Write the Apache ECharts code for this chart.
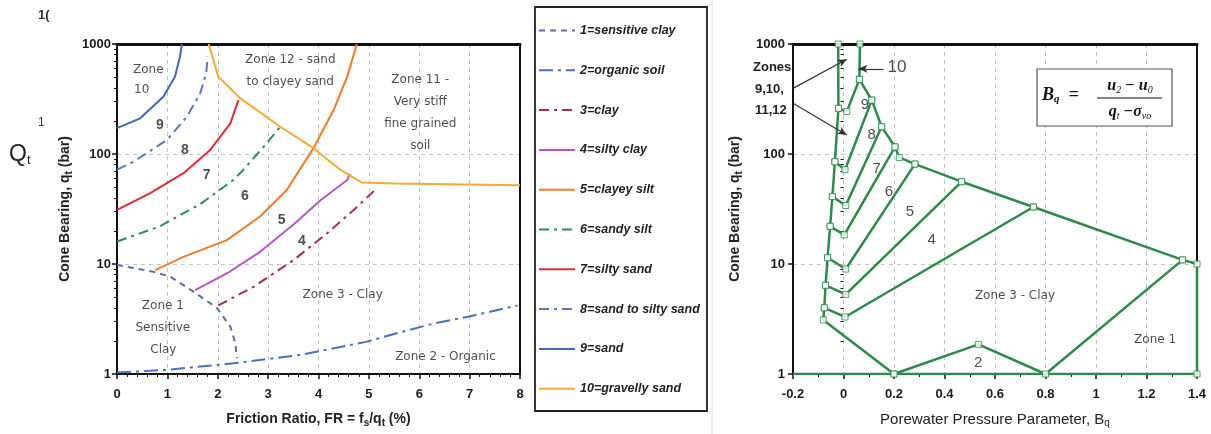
<!DOCTYPE html>
<html><head><meta charset="utf-8">
<script src="https://cdn.jsdelivr.net/npm/echarts@6/dist/echarts.min.js"></script>
<style>html,body{margin:0;padding:0;background:#fff}#c{width:1211px;height:434px}</style>
</head><body><div id="c"></div>
<script>
// ---------------- DATA ----------------
// Left chart: Friction ratio (%) vs cone bearing qt (bar)
const legendNames = ['1=sensitive clay','2=organic soil','3=clay','4=silty clay','5=clayey silt','6=sandy silt','7=silty sand','8=sand to silty sand','9=sand','10=gravelly sand'];
const frZone1 = [[0,9.8],[0.72,8.5],[1.05,7.7],[1.52,5.6],[1.98,4.0],[2.25,2.7],[2.35,1.9],[2.38,1.39]];
const frZone2 = [[0,1.03],[0.99,1.09],[2.31,1.25],[3.64,1.49],[4.96,1.97],[5.63,2.4],[6.29,2.88],[6.95,3.3],[7.95,4.2]];
const frZone3 = [[2.01,4.2],[2.71,6.2],[3.51,10.9],[4.17,19],[4.70,31],[5.16,49]];
const frZone4 = [[1.55,5.8],[2.18,8.2],[2.84,12.9],[3.51,23],[4.04,38],[4.57,58],[4.62,66]];
const frZone5 = [[0.76,8.8],[1.32,11.6],[2.18,16.5],[2.84,27],[3.37,47],[3.90,113],[4.30,251],[4.57,505],[4.76,1000]];
const frZone6 = [[0,16],[0.85,22],[1.65,35],[2.31,58],[2.51,72],[2.91,116],[3.24,177]];
const frZone7 = [[0,31],[0.66,44],[1.32,67],[1.85,109],[2.25,190],[2.41,309]];
const frZone8 = [[0,72],[0.33,85],[0.99,134],[1.39,219],[1.65,355],[1.77,540],[1.80,767]];
const frZone9 = [[0,172],[0.46,211],[0.92,331],[1.15,504],[1.25,767],[1.29,1000]];
const frZone10 = [[1.82,1000],[2.01,505],[2.45,320],[3.24,177],[3.90,113],[4.43,72],[4.86,55],[5.5,54],[8,52]];
const frTicks = [0,1,2,3,4,5,6,7,8];
const qtTicks = [1,10,100,1000];
const qtMinorTicks = [2,3,4,5,6,7,8,9,20,30,40,50,60,70,80,90,200,300,400,500,600,700,800,900];
const frLabels = [
  ['Zone',0.62,580,'zone'],['10',0.49,382,'zone'],
  ['9',0.85,184,'num'],['8',1.35,109,'num'],['7',1.78,64,'num'],['6',2.54,41,'num'],['5',3.27,25,'num'],['4',3.67,16,'num'],
  ['Zone 12 - sand',3.44,716,'zone'],['to clayey sand',3.44,454,'zone'],
  ['Zone 11 -',6.02,471,'zone'],['Very stiff',6.02,299,'zone'],['fine grained',6.02,187,'zone'],['soil',6.02,119,'zone'],
  ['Zone 3 - Clay',4.48,5.2,'zone'],
  ['Zone 1',0.91,4.15,'zone'],['Sensitive',0.91,2.6,'zone'],['Clay',0.92,1.65,'zone'],
  ['Zone 2 - Organic',6.52,1.44,'zone']
];
// Right chart: Bq vs cone bearing qt (bar)
const bqTicks = [-0.2,0,0.2,0.4,0.6,0.8,1,1.2,1.4];
const bqLeftChain = [[-0.021,1000],[-0.02,260],[-0.034,85],[-0.044,41],[-0.053,22],[-0.063,11.4],[-0.071,6.4],[-0.076,4.0],[-0.08,3.1],[0.2,1]];
const bqZone2 = [[0.2,1],[0.534,1.86],[0.8,1],[1.343,10.9]];
const bqUpper = [[0.065,1000],[0.063,477],[0.112,309],[0.151,177],[0.204,116],[0.221,93],[0.283,81],[0.468,56],[0.752,33],[1.343,10.9],[1.4,10],[1.4,1]];
const bqBase = [[-0.2,1],[1.4,1]];
const bqV9 = [[-0.02,260],[0.013,243],[0.063,477]];
const bqV8 = [[-0.034,85],[0.006,72],[0.112,309]];
const bqV7 = [[-0.044,41],[0.009,34],[0.151,177]];
const bqV6 = [[-0.053,22],[0.003,18.4],[0.204,116]];
const bqV5 = [[-0.063,11.4],[0.009,9.0],[0.283,81]];
const bqV4 = [[-0.071,6.4],[0.009,5.3],[0.468,56]];
const bqV3 = [[-0.076,4.0],[0.006,3.3],[0.752,33]];
const bqArrows = [[[-0.2,395],[0.013,727]],[[-0.2,289],[0.013,149]],[[0.158,595],[0.059,595]]];
const bqLabels = [
  ['9',0.085,279,'num'],['8',0.112,149,'num'],['7',0.131,74,'num'],['6',0.180,45,'num'],['5',0.263,30,'num'],['4',0.349,16.5,'num'],
  ['2',0.533,1.26,'num'],['10',0.212,617,'big'],
  ['Zone 3 - Clay',0.679,5.1,'zone'],['Zone 1',1.234,2.04,'zone']
];

// ---------------- STYLES ----------------
const lineDefs = [
  {data:frZone1,color:'#5d6ca8',type:[6,5]},
  {data:frZone2,color:'#4a6fc2',type:[14,5,3,5]},
  {data:frZone3,color:'#a0304f',type:[10,5,3,5]},
  {data:frZone4,color:'#b658c2',type:'solid'},
  {data:frZone5,color:'#f07a2a',type:'solid'},
  {data:frZone6,color:'#2a9052',type:[10,5,3,5]},
  {data:frZone7,color:'#e22a3c',type:'solid'},
  {data:frZone8,color:'#5a78b8',type:[10,5,3,5]},
  {data:frZone9,color:'#4466bb',type:'solid'},
  {data:frZone10,color:'#f5aa32',type:'solid'}
];
const GREEN = '#2d8a4a';
const labelStyles = {
  zone:{fontFamily:'DejaVu Sans',fontSize:12,color:'#222'},
  num:{fontFamily:'Liberation Sans',fontSize:14,fontWeight:'bold',color:'#222'},
  big:{fontFamily:'Liberation Sans',fontSize:17,color:'#222'}
};
const rightNum = {fontFamily:'Liberation Sans',fontSize:15,color:'#222'};
const tickFont = {color:'#1a1a1a',fontWeight:'bold',fontSize:13,fontFamily:'Liberation Sans'};
const gridDash = {color:'#c4c4c4',type:[4,4],width:1};
const subRich = {s:{fontSize:10,fontWeight:'bold',fontFamily:'Liberation Sans',padding:[7,0,0,0]}};

function logFmt(v){return String(Math.round(v));}

function xMain(grid,min,max,interval,minorSplit,name,nameStyle){
  return {gridIndex:grid,type:'value',min:min,max:max,interval:interval,position:'bottom',
    axisLine:{show:true,onZero:false,lineStyle:{color:'#111',width:2}},
    axisTick:{show:true,length:5,lineStyle:{color:'#111',width:1.5}},
    minorTick:{show:true,splitNumber:minorSplit,length:3,lineStyle:{color:'#111',width:1}},
    axisLabel:Object.assign({margin:14,formatter:v=>String(+(+v).toFixed(1))},tickFont),
    splitLine:{show:true,lineStyle:gridDash},
    name:name,nameLocation:'middle',nameGap:37,nameTextStyle:nameStyle};
}
function xTop(grid,min,max){
  return {gridIndex:grid,type:'value',min:min,max:max,position:'top',
    axisLine:{show:true,onZero:false,lineStyle:{color:'#111',width:3}},
    axisTick:{show:false},axisLabel:{show:false},splitLine:{show:false}};
}
function yMain(grid,name,gap,labelMargin){
  return {gridIndex:grid,type:'log',logBase:10,min:1,max:1000,position:'left',
    axisLine:{show:true,onZero:false,lineStyle:{color:'#111',width:2}},
    axisTick:{show:true,length:5,lineStyle:{color:'#111',width:1.5}},
    axisLabel:Object.assign({margin:labelMargin,formatter:logFmt},tickFont),
    splitLine:{show:true,lineStyle:gridDash},
    name:name,nameLocation:'middle',nameGap:gap,
    nameTextStyle:{fontSize:14,fontWeight:'bold',color:'#222',fontFamily:'Liberation Sans',rich:subRich}};
}
function yMinor(grid){
  return {gridIndex:grid,type:'log',logBase:10,min:1,max:1000,position:'left',
    axisLine:{show:false},axisLabel:{show:false},splitLine:{show:false},
    axisTick:{show:true,length:3,customValues:qtMinorTicks,lineStyle:{color:'#111',width:1}}};
}
function yRight(grid){
  return {gridIndex:grid,type:'log',logBase:10,min:1,max:1000,position:'right',
    axisLine:{show:true,onZero:false,lineStyle:{color:'#111',width:2}},
    axisTick:{show:false},axisLabel:{show:false},splitLine:{show:false}};
}

const series = [];
lineDefs.forEach((d,i)=>{
  series.push({name:legendNames[i],type:'line',xAxisIndex:0,yAxisIndex:0,data:d.data,
    symbol:'none',showSymbol:false,smooth:false,silent:true,z:3,
    itemStyle:{color:d.color},lineStyle:{color:d.color,width:2,type:d.type}});
});
function labelSeries(xi,yi,list,numStyle){
  return {type:'scatter',xAxisIndex:xi,yAxisIndex:yi,symbolSize:1,silent:true,z:6,
    itemStyle:{color:'rgba(0,0,0,0)'},
    data:list.map(l=>({value:[l[1],l[2]],
      label:Object.assign({show:true,position:'inside',formatter:l[0]},
        (numStyle && l[3]==='num')?numStyle:labelStyles[l[3]])}))};
}
series.push(labelSeries(0,0,frLabels,null));

const rightLines = [bqLeftChain,bqZone2,bqUpper,bqV9,bqV8,bqV7,bqV6,bqV5,bqV4,bqV3];
series.push({type:'line',xAxisIndex:2,yAxisIndex:3,data:bqBase,symbol:'none',silent:true,z:4,
  lineStyle:{color:GREEN,width:2.5}});
rightLines.forEach(d=>{
  series.push({type:'line',xAxisIndex:2,yAxisIndex:3,data:d,symbol:'none',showSymbol:false,silent:true,z:4,
    lineStyle:{color:GREEN,width:2.5}});
});
const nodes = [];
rightLines.forEach(d=>d.forEach(p=>nodes.push(p)));
series.push({type:'scatter',xAxisIndex:2,yAxisIndex:3,data:nodes,symbol:'rect',symbolSize:6,silent:true,z:5,
  itemStyle:{color:'#ffffff',borderColor:GREEN,borderWidth:1}});
series.push(Object.assign(labelSeries(2,3,bqLabels,rightNum),{
  markLine:{silent:true,symbol:['none','arrow'],symbolSize:[6,9],label:{show:false},
    lineStyle:{color:'#333',width:1.2,type:'solid'},animation:false,
    data:bqArrows.map(a=>[{coord:a[0]},{coord:a[1]}])}
}));

const option = {
  animation:false,
  backgroundColor:'#ffffff',
  grid:[
    {left:117,top:44,width:403,height:330,outerBoundsMode:'none'},
    {left:793,top:44,width:404,height:330,outerBoundsMode:'none'}
  ],
  xAxis:[
    xMain(0,0,8,1,5,'Friction Ratio, FR = f{s|s}/q{s|t} (%)',
      {fontSize:14,fontWeight:'bold',color:'#222',fontFamily:'Liberation Sans',rich:subRich}),
    xTop(0,0,8),
    xMain(1,-0.2,1.4,0.2,2,'Porewater Pressure Parameter, B{s|q}',
      {fontSize:15,color:'#222',fontFamily:'Liberation Sans',rich:{s:{fontSize:10,fontFamily:'Liberation Sans',padding:[7,0,0,0]}}}),
    xTop(1,-0.2,1.4)
  ],
  yAxis:[
    yMain(0,'Cone Bearing, q{s|t} (bar)',43,6), yMinor(0), yRight(0),
    yMain(1,'Cone Bearing, q{s|t} (bar)',49,8), yMinor(1), yRight(1)
  ],
  legend:{
    orient:'vertical',left:538,top:24,padding:0,itemWidth:36,itemHeight:14,itemGap:26.8,
    selectedMode:false,data:legendNames,
    itemStyle:{opacity:0,borderWidth:0},
    textStyle:{fontStyle:'italic',fontWeight:'bold',fontSize:12.5,color:'#222',fontFamily:'Liberation Sans'}
  },
  graphic:[
    {type:'rect',shape:{x:535,y:7,width:172,height:404},style:{fill:'none',stroke:'#222',lineWidth:1.8},silent:true},
    {type:'line',shape:{x1:712,y1:0,x2:712,y2:434},style:{stroke:'#e2e2e2',lineWidth:1},silent:true},
    {type:'text',left:38,top:9,style:{text:'1(',font:'bold 13px "Liberation Sans"',fill:'#333'}},
    {type:'text',left:38,top:117,style:{text:'1',font:'12px "Liberation Sans"',fill:'#333'}},
    {type:'text',left:9,top:143,style:{text:'Q{s|t}',font:'23px "Liberation Sans"',fill:'#222',
      rich:{s:{fontSize:13,fontFamily:'Liberation Sans',padding:[12,0,0,0]}}}},
    {type:'text',left:753,top:61,style:{text:'Zones',font:'bold 13px "Liberation Sans"',fill:'#222'}},
    {type:'text',left:755,top:83,style:{text:'9,10,',font:'bold 13px "Liberation Sans"',fill:'#222'}},
    {type:'text',left:755,top:104,style:{text:'11,12',font:'bold 13px "Liberation Sans"',fill:'#222'}},
    {type:'rect',shape:{x:1037,y:69,width:135,height:57},style:{fill:'#fff',stroke:'#555',lineWidth:1.2},silent:true,z:10},
    {type:'text',left:1042,top:86,z:11,style:{text:'B{s|q}  =',font:'bold italic 18px "Liberation Serif"',fill:'#111',
      rich:{s:{fontSize:11,fontStyle:'italic',fontWeight:'bold',fontFamily:'Liberation Serif',padding:[9,0,0,0]}}}},
    {type:'text',x:1130,y:86,z:11,style:{text:'u{s|2} \u2212 u{s|0}',align:'center',verticalAlign:'middle',font:'bold italic 16px "Liberation Serif"',fill:'#111',
      rich:{s:{fontSize:10,fontStyle:'italic',fontFamily:'Liberation Serif',padding:[8,0,0,0]}}}},
    {type:'line',z:11,shape:{x1:1097,y1:98,x2:1162,y2:98},style:{stroke:'#111',lineWidth:1.2}},
    {type:'text',x:1130,y:112,z:11,style:{text:'q{s|t} \u2212\u03C3{s|vo}',align:'center',verticalAlign:'middle',font:'bold italic 16px "Liberation Serif"',fill:'#111',
      rich:{s:{fontSize:10,fontStyle:'italic',fontFamily:'Liberation Serif',padding:[8,0,0,0]}}}}
  ],
  series:series
};
const chart = echarts.init(document.getElementById('c'),null,{renderer:'canvas'});
chart.setOption(option);
</script></body></html>
